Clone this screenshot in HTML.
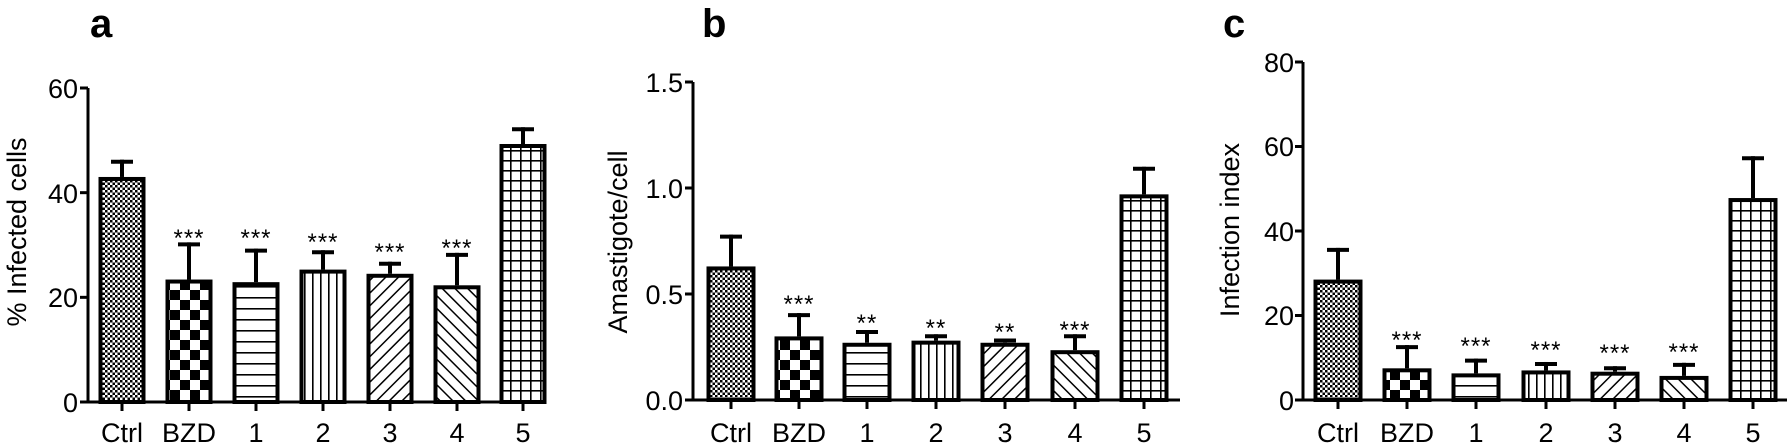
<!DOCTYPE html>
<html><head><meta charset="utf-8"><style>
html,body{margin:0;padding:0;background:#fff;width:1791px;height:448px;overflow:hidden}
svg{display:block}
text{font-family:"Liberation Sans",Arial,sans-serif;fill:#000}
.t{font-size:27px}
.s{font-size:24px;letter-spacing:1px}
.L{font-size:40px;font-weight:bold}
</style></head><body>
<svg id="g" width="1791" height="448" viewBox="0 0 1791 448" xmlns="http://www.w3.org/2000/svg">
<defs>
<pattern id="pc" width="5" height="5" patternUnits="userSpaceOnUse"><rect width="5" height="5" fill="#fff"/><rect width="2.5" height="2.5" fill="#000"/><rect x="2.5" y="2.5" width="2.5" height="2.5" fill="#000"/></pattern>
<pattern id="pb" width="20" height="20" patternUnits="userSpaceOnUse"><rect width="20" height="20" fill="#fff"/><rect width="10" height="10" fill="#000"/><rect x="10" y="10" width="10" height="10" fill="#000"/></pattern>
<pattern id="ph" width="10" height="11" patternUnits="userSpaceOnUse"><rect width="10" height="11" fill="#fff"/><rect y="0" width="10" height="1.6" fill="#000"/></pattern>
<pattern id="pv" width="8" height="10" patternUnits="userSpaceOnUse"><rect width="8" height="10" fill="#fff"/><rect x="0" width="1.6" height="10" fill="#000"/></pattern>
<pattern id="pd1" width="9" height="9" patternUnits="userSpaceOnUse" patternTransform="rotate(45)"><rect width="9" height="9" fill="#fff"/><rect width="1.5" height="9" fill="#000"/></pattern>
<pattern id="pd2" width="9" height="9" patternUnits="userSpaceOnUse" patternTransform="rotate(-45)"><rect width="9" height="9" fill="#fff"/><rect width="1.5" height="9" fill="#000"/></pattern>
<pattern id="pg" width="10" height="10" patternUnits="userSpaceOnUse"><rect width="10" height="10" fill="#fff"/><rect width="1.6" height="10" fill="#000"/><rect width="10" height="1.6" fill="#000"/></pattern>
</defs>

<text class="L" x="90" y="37">a</text>
<text class="L" x="702" y="37">b</text>
<text class="L" x="1223" y="37">c</text>

<text class="t" transform="translate(26,232) rotate(-90)" text-anchor="middle">% Infected cells</text>
<text class="t" transform="translate(627,242) rotate(-90)" text-anchor="middle">Amastigote/cell</text>
<text class="t" transform="translate(1239,230) rotate(-90)" text-anchor="middle">Infection index</text>

<g text-anchor="end">
<text class="t" x="78" y="98">60</text><text class="t" x="78" y="203">40</text><text class="t" x="78" y="307">20</text><text class="t" x="78" y="412">0</text>
<text class="t" x="683" y="92">1.5</text><text class="t" x="683" y="198">1.0</text><text class="t" x="683" y="304">0.5</text><text class="t" x="683" y="410">0.0</text>
<text class="t" x="1294" y="72">80</text><text class="t" x="1294" y="156">60</text><text class="t" x="1294" y="241">40</text><text class="t" x="1294" y="325">20</text><text class="t" x="1294" y="410">0</text>
</g>

<g text-anchor="middle">
<text class="t" x="122" y="442">Ctrl</text><text class="t" x="189" y="442">BZD</text><text class="t" x="256" y="442">1</text><text class="t" x="323" y="442">2</text><text class="t" x="390" y="442">3</text><text class="t" x="457" y="442">4</text><text class="t" x="523" y="442">5</text>
<text class="t" x="731" y="442">Ctrl</text><text class="t" x="799" y="442">BZD</text><text class="t" x="867" y="442">1</text><text class="t" x="936" y="442">2</text><text class="t" x="1005" y="442">3</text><text class="t" x="1075" y="442">4</text><text class="t" x="1144" y="442">5</text>
<text class="t" x="1338" y="442">Ctrl</text><text class="t" x="1407" y="442">BZD</text><text class="t" x="1476" y="442">1</text><text class="t" x="1546" y="442">2</text><text class="t" x="1615" y="442">3</text><text class="t" x="1684" y="442">4</text><text class="t" x="1753" y="442">5</text>
</g>

<g text-anchor="middle">
<text class="s" x="189" y="246">***</text><text class="s" x="256" y="246">***</text><text class="s" x="323" y="250">***</text><text class="s" x="390" y="260">***</text><text class="s" x="457" y="256">***</text>
<text class="s" x="799" y="312">***</text><text class="s" x="867" y="331">**</text><text class="s" x="936" y="336">**</text><text class="s" x="1005" y="340">**</text><text class="s" x="1075" y="338">***</text>
<text class="s" x="1407" y="348">***</text><text class="s" x="1476" y="354">***</text><text class="s" x="1546" y="358">***</text><text class="s" x="1615" y="361">***</text><text class="s" x="1684" y="360">***</text>
</g>
</svg>
<script>
(function(){
var NS="http://www.w3.org/2000/svg",g=document.getElementById("g");
function el(n,a){var e=document.createElementNS(NS,n);for(var k in a)e.setAttribute(k,a[k]);g.appendChild(e);return e;}
var pats=["pc","pb","ph","pv","pd1","pd2","pg"];
var panels=[
 {ax:88,y0:402,top:88,xend:545,cx:[122,189,256,323,390,457,523],w:47,sc:314/60,ticks:[0,20,40,60],
  v:[43,23.4,22.9,25.3,24.5,22.3,49.3],e:[46.3,30.5,29.3,29,26.8,28.5,52.5]},
 {ax:693,y0:400,top:82,xend:1180,cx:[731,799,867,936,1005,1075,1144],w:49,sc:212,ticks:[0,0.5,1,1.5],
  v:[0.63,0.30,0.27,0.28,0.27,0.235,0.97],e:[0.78,0.41,0.33,0.31,0.29,0.31,1.10]},
 {ax:1303,y0:400,top:62,xend:1787,cx:[1338,1407,1476,1546,1615,1684,1753],w:49,sc:338/80,ticks:[0,20,40,60,80],
  v:[28.5,7.5,6.3,7,6.7,5.7,47.8],e:[36,13,9.8,9,8,8.8,57.7]}
];
panels.forEach(function(p){
 p.cx.forEach(function(c,i){
  var yt=p.y0-p.v[i]*p.sc, ye=p.y0-p.e[i]*p.sc;
  el("line",{x1:c,x2:c,y1:ye,y2:yt,stroke:"#000","stroke-width":4});
  el("line",{x1:c-11,x2:c+11,y1:ye+2,y2:ye+2,stroke:"#000","stroke-width":4});
  el("rect",{x:c-p.w/2+2,y:yt+2,width:p.w-4,height:p.y0-yt-2,fill:"url(#"+pats[i]+")",stroke:"#000","stroke-width":4});
  el("line",{x1:c,x2:c,y1:p.y0,y2:p.y0+9,stroke:"#000","stroke-width":3});
 });
 el("line",{x1:p.ax,x2:p.ax,y1:p.top,y2:p.y0+1.5,stroke:"#000","stroke-width":3});
 el("line",{x1:p.ax-8,x2:p.xend,y1:p.y0,y2:p.y0,stroke:"#000","stroke-width":3});
 p.ticks.forEach(function(t){var y=p.y0-t*p.sc;el("line",{x1:p.ax-8,x2:p.ax,y1:y,y2:y,stroke:"#000","stroke-width":3});});
});
})();
</script>
</body></html>
